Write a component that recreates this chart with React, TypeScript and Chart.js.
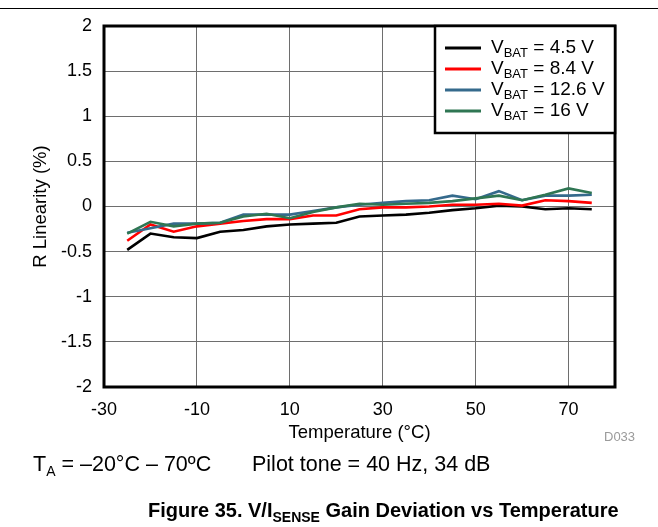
import React, { useEffect, useRef } from "react";
import { Chart, registerables } from "chart.js";

Chart.register(...registerables);

// ---- data ----
const temperatures = [-25, -20, -15, -10, -5, 0, 5, 10, 15, 20, 25, 30, 35, 40, 45, 50, 55, 60, 65, 70, 75];
const vbat45 = [-0.48, -0.30, -0.34, -0.35, -0.28, -0.26, -0.22, -0.20, -0.19, -0.18, -0.11, -0.10, -0.09, -0.07, -0.04, -0.02, 0.01, 0.0, -0.03, -0.02, -0.03];
const vbat84 = [-0.38, -0.20, -0.28, -0.22, -0.19, -0.16, -0.14, -0.14, -0.10, -0.10, -0.03, -0.01, -0.01, 0.0, 0.02, 0.02, 0.03, 0.01, 0.07, 0.06, 0.04];
const vbat126 = [-0.29, -0.24, -0.19, -0.19, -0.18, -0.09, -0.09, -0.09, -0.05, -0.01, 0.02, 0.04, 0.06, 0.07, 0.12, 0.08, 0.17, 0.07, 0.12, 0.12, 0.13];
const vbat16 = [-0.30, -0.17, -0.22, -0.19, -0.18, -0.11, -0.08, -0.13, -0.06, -0.01, 0.03, 0.02, 0.03, 0.04, 0.06, 0.09, 0.12, 0.07, 0.13, 0.20, 0.15];
const xTickValues = [-30, -10, 10, 30, 50, 70];
const seriesValues = [vbat45, vbat84, vbat126, vbat16];
const seriesLabels = ["4.5 V", "8.4 V", "12.6 V", "16 V"];
const seriesColors = ["#000000", "#ff0000", "#356a8c", "#2f7653"];

const FONT_FAMILY = "'Liberation Sans', Arial, sans-serif";

const framePlugin = {
  id: "frameAndLegend",
  afterDatasetsDraw(chart: any) {
    const { ctx, chartArea } = chart;
    const { left, top, right, bottom } = chartArea;
    ctx.save();
    // plot frame
    ctx.strokeStyle = "#000";
    ctx.lineWidth = 3;
    ctx.strokeRect(left, top, right - left, bottom - top);

    // legend box
    const bw = 180;
    const bh = 107;
    const bx = right - bw;
    const by = top;
    ctx.fillStyle = "#fff";
    ctx.fillRect(bx, by, bw, bh);
    ctx.lineWidth = 2.5;
    ctx.strokeRect(bx, by, bw, bh);

    seriesLabels.forEach((lab, i) => {
      const y = by + 22 + i * 21;
      ctx.strokeStyle = seriesColors[i];
      ctx.lineWidth = 3;
      ctx.beginPath();
      ctx.moveTo(bx + 10, y);
      ctx.lineTo(bx + 46, y);
      ctx.stroke();

      ctx.fillStyle = "#000";
      ctx.textBaseline = "middle";
      ctx.textAlign = "left";
      let x = bx + 56;
      ctx.font = `19px ${FONT_FAMILY}`;
      ctx.fillText("V", x, y);
      x += ctx.measureText("V").width;
      ctx.font = `13px ${FONT_FAMILY}`;
      ctx.fillText("BAT", x, y + 5);
      x += ctx.measureText("BAT").width;
      ctx.font = `19px ${FONT_FAMILY}`;
      ctx.fillText(" = " + lab, x, y);
    });
    ctx.restore();
  },
};

export default function App() {
  const canvasRef = useRef<HTMLCanvasElement | null>(null);

  useEffect(() => {
    if (!canvasRef.current) return;
    const tickFont = { family: FONT_FAMILY, size: 18 };
    const titleFont = { family: FONT_FAMILY, size: 18.5 };
    const chart = new Chart(canvasRef.current, {
      type: "line",
      data: {
        datasets: seriesValues.map((vals, i) => ({
          label: "VBAT = " + seriesLabels[i],
          data: temperatures.map((t, j) => ({ x: t, y: vals[j] })),
          borderColor: seriesColors[i],
          backgroundColor: seriesColors[i],
          borderWidth: 2.6,
          pointRadius: 0,
          tension: 0,
          fill: false,
          order: 3 - i,
        })),
      },
      options: {
        responsive: false,
        animation: false,
        events: [],
        layout: { padding: { left: 0, top: 26, right: 43, bottom: 80 } },
        plugins: {
          legend: { display: false },
          tooltip: { enabled: false },
          title: { display: false },
        },
        scales: {
          x: {
            type: "linear",
            min: -30,
            max: 80,
            afterBuildTicks: (s: any) => {
              s.ticks = xTickValues.map((v) => ({ value: v }));
            },
            afterFit: (s: any) => {
              s.height = 60;
            },
            grid: { color: "#6e6e6e", lineWidth: 1, drawTicks: false },
            border: { display: false },
            ticks: {
              padding: 12,
              color: "#000",
              font: tickFont,
              maxRotation: 0,
              autoSkip: false,
              callback: (v: any) => String(v),
            },
            title: {
              display: true,
              text: "Temperature (°C)",
              color: "#000",
              font: titleFont,
              padding: { top: 0, bottom: 3 },
            },
          },
          y: {
            type: "linear",
            min: -2,
            max: 2,
            afterFit: (s: any) => {
              s.width = 104;
            },
            grid: { color: "#6e6e6e", lineWidth: 1, drawTicks: false },
            border: { display: false },
            ticks: {
              stepSize: 0.5,
              padding: 12,
              color: "#000",
              font: tickFont,
              callback: (v: any) => String(v),
            },
            title: {
              display: true,
              text: "R Linearity (%)",
              color: "#000",
              font: titleFont,
              padding: { top: 30, bottom: 0 },
            },
          },
        },
      },
      plugins: [framePlugin],
    } as any);
    return () => chart.destroy();
  }, []);

  const textBase: React.CSSProperties = {
    position: "absolute",
    fontFamily: FONT_FAMILY,
    color: "#000",
    lineHeight: 1,
    whiteSpace: "nowrap",
  };

  return (
    <div
      style={{
        position: "absolute",
        left: 0,
        top: 0,
        width: 658,
        height: 527,
        background: "#fff",
        overflow: "hidden",
      }}
    >
      <div style={{ position: "absolute", left: 0, top: 8, width: 658, height: 1, background: "#000" }} />
      <canvas ref={canvasRef} width={658} height={527} style={{ position: "absolute", left: 0, top: 0 }} />
      <div style={{ ...textBase, left: 604, top: 430, fontSize: 13, color: "#9a9a9a" }}>D033</div>
      <div style={{ ...textBase, left: 33, top: 454, fontSize: 21.5 }}>
        T<sub style={{ fontSize: 14, verticalAlign: "-5px", lineHeight: 0 }}>A</sub> = –20°C – 70ºC
      </div>
      <div style={{ ...textBase, left: 252, top: 454, fontSize: 21.5 }}>Pilot tone = 40 Hz, 34 dB</div>
      <div style={{ ...textBase, left: 148, top: 500, fontSize: 20, fontWeight: "bold" }}>
        Figure 35. V/I<sub style={{ fontSize: 14, verticalAlign: "-5px", lineHeight: 0 }}>SENSE</sub> Gain Deviation vs Temperature
      </div>
    </div>
  );
}
